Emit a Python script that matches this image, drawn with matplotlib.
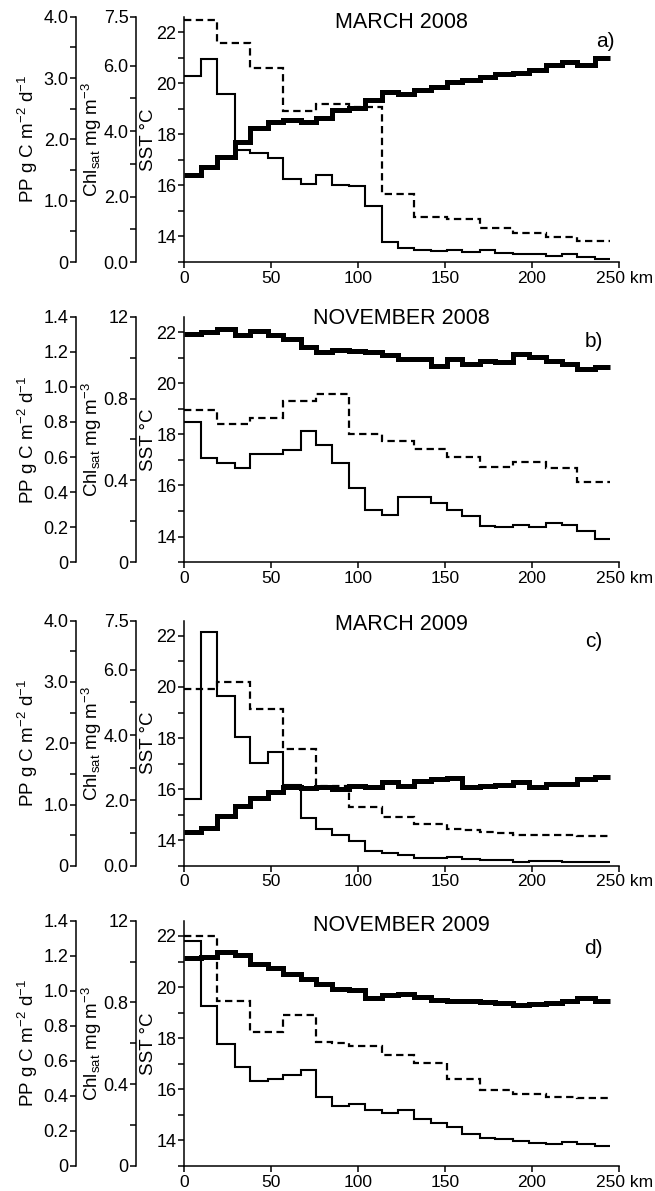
import numpy as np
import matplotlib
matplotlib.use('Agg')
import matplotlib.pyplot as plt
import matplotlib.transforms as mtransforms
from matplotlib.ticker import FixedLocator

plt.rcParams['font.family'] = ['Liberation Sans', 'DejaVu Sans']
plt.rcParams['mathtext.default'] = 'regular'

# segment edges along the transect (km)
km = [0, 10, 19, 29, 38, 48, 57, 67, 76, 85, 95, 104, 114, 123, 132, 142,
      151, 160, 170, 179, 189, 198, 208, 217, 226, 236, 245]

# March 2008
sst_a = [16.42, 16.73, 17.12, 17.71, 18.23, 18.46, 18.56, 18.49, 18.62, 18.95, 19.01, 19.34, 19.67,
         19.58, 19.73, 19.86, 20.06, 20.12, 20.25, 20.35, 20.41, 20.52, 20.71, 20.84, 20.71, 21.0]
chl_a = [5.69, 6.21, 5.15, 3.41, 3.33, 3.18, 2.54, 2.38, 2.67, 2.36, 2.31, 1.72, 0.62,
         0.44, 0.36, 0.33, 0.38, 0.31, 0.36, 0.29, 0.25, 0.23, 0.19, 0.25, 0.15, 0.10]
pp_a = [3.95, 3.95, 3.57, 3.57, 3.17, 3.17, 2.46, 2.46, 2.58, 2.58, 2.52, 2.52, 1.11,
        1.11, 0.74, 0.74, 0.70, 0.70, 0.56, 0.55, 0.47, 0.47, 0.41, 0.41, 0.34, 0.34]

# November 2008
sst_b = [21.93, 21.99, 22.13, 21.87, 22.06, 21.87, 21.74, 21.41, 21.24, 21.32, 21.28, 21.24, 21.11,
         20.93, 20.93, 20.69, 20.93, 20.76, 20.89, 20.82, 21.15, 21.02, 20.89, 20.76, 20.56, 20.63]
chl_b = [0.686, 0.507, 0.485, 0.459, 0.528, 0.528, 0.550, 0.642, 0.572, 0.483, 0.361, 0.255, 0.231,
         0.317, 0.317, 0.288, 0.255, 0.224, 0.179, 0.171, 0.184, 0.171, 0.192, 0.182, 0.154, 0.111]
pp_b = [0.867, 0.867, 0.787, 0.787, 0.825, 0.825, 0.920, 0.920, 0.962, 0.962, 0.730, 0.730, 0.692,
        0.692, 0.645, 0.645, 0.598, 0.598, 0.544, 0.544, 0.569, 0.569, 0.537, 0.537, 0.455, 0.455]

# March 2009
sst_c = [14.32, 14.49, 14.95, 15.36, 15.66, 15.88, 16.08, 16.05, 16.08, 16.01, 16.14, 16.09, 16.27,
         16.14, 16.31, 16.38, 16.42, 16.09, 16.12, 16.18, 16.29, 16.09, 16.22, 16.22, 16.38, 16.47]
chl_c = [2.05, 7.16, 5.18, 3.94, 3.15, 3.48, 2.46, 1.47, 1.12, 0.93, 0.76, 0.46, 0.39,
         0.33, 0.25, 0.23, 0.28, 0.20, 0.17, 0.17, 0.13, 0.15, 0.14, 0.13, 0.12, 0.12]
pp_c = [2.88, 2.88, 2.99, 2.99, 2.56, 2.56, 1.91, 1.91, 1.30, 1.30, 0.96, 0.96, 0.80,
        0.80, 0.69, 0.69, 0.60, 0.59, 0.55, 0.53, 0.51, 0.51, 0.51, 0.51, 0.49, 0.49]

# November 2009
sst_d = [21.15, 21.17, 21.38, 21.25, 20.91, 20.76, 20.50, 20.33, 20.14, 19.94, 19.88, 19.58, 19.68,
         19.74, 19.62, 19.48, 19.45, 19.45, 19.41, 19.36, 19.28, 19.35, 19.36, 19.45, 19.56, 19.45]
chl_d = [1.102, 0.784, 0.599, 0.482, 0.416, 0.424, 0.444, 0.470, 0.335, 0.291, 0.302, 0.274, 0.258,
         0.274, 0.229, 0.209, 0.193, 0.155, 0.139, 0.131, 0.122, 0.114, 0.109, 0.119, 0.106, 0.098]
pp_d = [1.310, 1.310, 0.939, 0.939, 0.766, 0.766, 0.861, 0.861, 0.705, 0.699, 0.686, 0.686, 0.632,
        0.632, 0.587, 0.587, 0.499, 0.499, 0.434, 0.434, 0.410, 0.410, 0.396, 0.396, 0.390, 0.390]

titles = ['MARCH 2008', 'NOVEMBER 2008', 'MARCH 2009', 'NOVEMBER 2009']
letters = ['a)', 'b)', 'c)', 'd)']
sst_all = [sst_a, sst_b, sst_c, sst_d]
chl_all = [chl_a, chl_b, chl_c, chl_d]
pp_all = [pp_a, pp_b, pp_c, pp_d]

x_ticks = [0, 50, 100, 150, 200, 250]
x_labels = ['0', '50', '100', '150', '200', '250 km']

# March panels and November panels use different PP / Chl scales
pp_max = [4.0, 1.4, 4.0, 1.4]
pp_ticks = [[0, 1, 2, 3, 4], [0, 0.2, 0.4, 0.6, 0.8, 1.0, 1.2, 1.4]] * 2
pp_labels = [['0', '1.0', '2.0', '3.0', '4.0'],
             ['0', '0.2', '0.4', '0.6', '0.8', '1.0', '1.2', '1.4']] * 2
pp_minor = [[0.5, 1.5, 2.5, 3.5], []] * 2
chl_max = [7.5, 1.2, 7.5, 1.2]
chl_ticks = [[0, 2, 4, 6, 7.5], [0, 0.4, 0.8, 1.2]] * 2
chl_labels = [['0.0', '2.0', '4.0', '6.0', '7.5'], ['0', '0.4', '0.8', '12']] * 2
chl_minor = [[1, 3, 5], [0.2, 0.6, 1.0]] * 2

bottoms = [0.780, 0.528, 0.273, 0.021]
title_y = [0.975, 0.993, 0.984, 0.980]
letter_pos = [(0.968, 0.90), (0.943, 0.90), (0.941, 0.915), (0.941, 0.886)]

fig = plt.figure(figsize=(6.55, 11.91), dpi=100)
tick_kw = dict(direction='out', length=4.2, width=1.1, labelsize=13, pad=1.2)
# shift for the last x label so that "250 km" starts just left of its tick
km_shift = mtransforms.ScaledTranslation(-23 / 100, 0, fig.dpi_scale_trans)

for i in range(4):
    ax = fig.add_axes([0.281, bottoms[i], 0.664, 0.206])
    ax_chl = ax.twinx()
    ax_pp = ax.twinx()

    ax.stairs(sst_all[i], km, baseline=None, color='k', lw=3.6, joinstyle='miter')
    ax_chl.stairs(chl_all[i], km, baseline=None, color='k', lw=1.5, joinstyle='miter')
    ax_pp.stairs(pp_all[i], km, baseline=None, color='k', lw=1.6, linestyle=(0, (3.3, 2.0)))

    ax.set_xlim(0, 250)
    ax.set_ylim(13, 22.6)
    ax.set_xticks(x_ticks)
    ax.set_xticklabels(x_labels)
    ax.set_yticks([14, 16, 18, 20, 22])
    ax.yaxis.set_minor_locator(FixedLocator([13, 15, 17, 19, 21]))
    ax.tick_params(which='both', **tick_kw)
    ax.tick_params(axis='x', pad=2, labelsize=12.5)
    last = ax.get_xticklabels()[-1]
    last.set_ha('left')
    last.set_transform(last.get_transform() + km_shift)
    for s in ['top', 'right']:
        ax.spines[s].set_visible(False)
    for s in ['left', 'bottom']:
        ax.spines[s].set_linewidth(1.1)

    for tw, ymax, ticks, labels, minor, offset in [
            (ax_chl, chl_max[i], chl_ticks[i], chl_labels[i], chl_minor[i], -0.110),
            (ax_pp, pp_max[i], pp_ticks[i], pp_labels[i], pp_minor[i], -0.248)]:
        tw.set_ylim(0, ymax)
        for s in ['top', 'right', 'bottom']:
            tw.spines[s].set_visible(False)
        tw.spines['left'].set_visible(True)
        tw.spines['left'].set_position(('axes', offset))
        tw.spines['left'].set_linewidth(1.1)
        tw.yaxis.set_ticks_position('left')
        tw.set_yticks(ticks)
        tw.set_yticklabels(labels)
        tw.yaxis.set_minor_locator(FixedLocator(minor))
        tw.tick_params(which='both', **tick_kw)

    ax.text(-0.359, 0.5, 'PP g C m$^{-2}$ d$^{-1}$', transform=ax.transAxes,
            rotation=90, ha='center', va='center', fontsize=13.5)
    ax.text(-0.212, 0.5, 'Chl$_{sat}$ mg m$^{-3}$', transform=ax.transAxes,
            rotation=90, ha='center', va='center', fontsize=13.5)
    ax.text(-0.081, 0.5, 'SST °C', transform=ax.transAxes,
            rotation=90, ha='center', va='center', fontsize=13.5)

    ax.text(0.5, title_y[i], titles[i], transform=ax.transAxes,
            ha='center', va='center', fontsize=15.5)
    ax.text(letter_pos[i][0], letter_pos[i][1], letters[i], transform=ax.transAxes,
            ha='center', va='center', fontsize=15)

fig.savefig('out.png', dpi=100)
